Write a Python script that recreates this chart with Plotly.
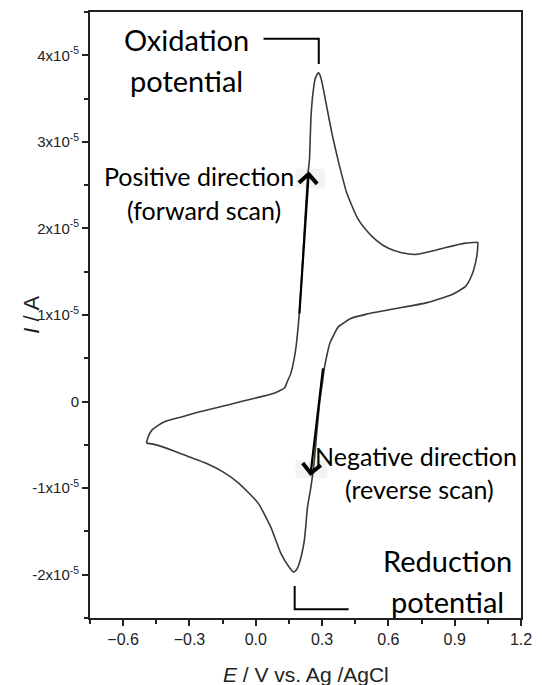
import plotly.graph_objects as go

# Cyclic voltammogram: potential E (V vs. Ag/AgCl) and current I (in units of 1e-5 A)
I_UNIT = 1e-5

fwd_E = [-0.495, -0.486, -0.470, -0.445, -0.410, -0.340, -0.271, -0.160, -0.066, 0.030,
         0.086, 0.112, 0.131, 0.144, 0.158, 0.180, 0.198, 0.212, 0.225, 0.234,
         0.243, 0.250, 0.261, 0.270, 0.283, 0.292, 0.301, 0.323, 0.346, 0.377,
         0.413, 0.460, 0.500, 0.547, 0.600, 0.660, 0.726, 0.784, 0.860, 0.949,
         1.005]
fwd_I = [-0.48, -0.40, -0.33, -0.28, -0.23, -0.18, -0.13, -0.06, 0.00, 0.06,
         0.10, 0.13, 0.16, 0.24, 0.32, 0.59, 1.05, 1.62, 2.20, 2.58,
         2.80, 3.30, 3.61, 3.74, 3.80, 3.76, 3.67, 3.38, 3.08, 2.74,
         2.40, 2.12, 1.98, 1.86, 1.77, 1.72, 1.70, 1.73, 1.78, 1.83,
         1.84]

rev_E = [1.005, 1.003, 0.994, 0.976, 0.949, 0.891, 0.771, 0.623, 0.502, 0.430,
         0.399, 0.372, 0.355, 0.336, 0.323, 0.310, 0.301, 0.290, 0.277, 0.265,
         0.250, 0.234, 0.220, 0.198, 0.185, 0.171, 0.153, 0.113, 0.068, 0.010,
         -0.079, -0.150, -0.227, -0.300, -0.370, -0.450, -0.495]
rev_I = [1.84, 1.74, 1.60, 1.45, 1.33, 1.24, 1.14, 1.07, 1.01, 0.96,
         0.91, 0.86, 0.78, 0.68, 0.55, 0.38, 0.21, 0.01, -0.33, -0.68,
         -0.98, -1.22, -1.60, -1.86, -1.94, -1.97, -1.92, -1.75, -1.45, -1.17,
         -0.94, -0.81, -0.71, -0.64, -0.57, -0.50, -0.48]

x_ticks = [-0.6, -0.3, 0.0, 0.3, 0.6, 0.9, 1.2]
y_tick_vals = [-2, -1, 0, 1, 2, 3, 4]
y_tick_text = ["-2x10<sup>-5</sup>", "-1x10<sup>-5</sup>", "0", "1x10<sup>-5</sup>",
               "2x10<sup>-5</sup>", "3x10<sup>-5</sup>", "4x10<sup>-5</sup>"]

# Peak markers
ox_peak = (0.283, 3.80)
red_peak = (0.171, -1.97)

LINE = "#3a3a3a"
ANN_FONT = "Lato"
AX_FONT = "Liberation Sans"

fig = go.Figure()
for E, I in ((fwd_E, fwd_I), (rev_E, rev_I)):
    fig.add_trace(go.Scatter(x=E, y=[v * I_UNIT for v in I], mode="lines",
                             line=dict(color=LINE, width=1.6, shape="spline", smoothing=0.5),
                             hoverinfo="skip", showlegend=False))

shapes = []
# faint boxes behind the direction arrows
shapes.append(dict(type="rect", xref="x", yref="y", x0=0.18, x1=0.314,
                   y0=2.46 * I_UNIT, y1=2.69 * I_UNIT, fillcolor="#f3f3f3",
                   line=dict(width=0), layer="below"))
shapes.append(dict(type="rect", xref="x", yref="y", x0=0.18, x1=0.323,
                   y0=-0.885 * I_UNIT, y1=-0.68 * I_UNIT, fillcolor="#f3f3f3",
                   line=dict(width=0), layer="below"))
# oxidation bracket
shapes.append(dict(type="path", xref="x", yref="y",
                   path=f"M 0.035 {4.19 * I_UNIT} L {ox_peak[0] + 0.002} {4.19 * I_UNIT} "
                        f"L {ox_peak[0] + 0.002} {3.90 * I_UNIT}",
                   line=dict(color="black", width=2)))
# reduction bracket
shapes.append(dict(type="path", xref="x", yref="y",
                   path=f"M {red_peak[0] + 0.005} {-2.13 * I_UNIT} L {red_peak[0] + 0.005} {-2.40 * I_UNIT} "
                        f"L 0.420 {-2.40 * I_UNIT}",
                   line=dict(color="black", width=2)))

annotations = []
def label(text, x, y, size):
    annotations.append(dict(text=text, x=x, y=y * I_UNIT, xref="x", yref="y",
                            showarrow=False, xanchor="center", yanchor="middle",
                            font=dict(family=ANN_FONT, size=size, color="black")))

label("Oxidation", -0.312, 4.18, 29)
label("potential", -0.312, 3.71, 29)
label("Positive direction", -0.258, 2.60, 25)
label("(forward scan)", -0.236, 2.21, 25)
label("Negative direction", 0.726, -0.63, 25)
label("(reverse scan)", 0.739, -1.01, 25)
label("Reduction", 0.866, -1.83, 29)
label("potential", 0.866, -2.31, 29)

# direction arrows
annotations.append(dict(x=0.240, y=2.66 * I_UNIT, ax=0.197, ay=1.00 * I_UNIT,
                        xref="x", yref="y", axref="x", ayref="y", text="",
                        showarrow=True, arrowhead=4, arrowsize=1.6, arrowwidth=2.2,
                        arrowcolor="black"))
annotations.append(dict(x=0.247, y=-0.86 * I_UNIT, ax=0.305, ay=0.40 * I_UNIT,
                        xref="x", yref="y", axref="x", ayref="y", text="",
                        showarrow=True, arrowhead=4, arrowsize=1.6, arrowwidth=2.2,
                        arrowcolor="black"))

# axis titles
annotations.append(dict(text="<i>E</i> / V vs. Ag /AgCl", x=(308 - 90) / 436,
                        y=-(675 - 618) / 608, xref="paper", yref="paper",
                        showarrow=False, xanchor="center", yanchor="middle",
                        font=dict(family=AX_FONT, size=21, color="#222")))
annotations.append(dict(text="<i>I</i> / A", x=-(90 - 30) / 436, y=0.5, xref="paper",
                        yref="paper", showarrow=False, textangle=-90,
                        xanchor="center", yanchor="middle",
                        font=dict(family=AX_FONT, size=22, color="#222")))

fig.update_layout(
    width=542, height=685,
    margin=dict(l=90, r=16, t=10, b=67),
    paper_bgcolor="white", plot_bgcolor="white",
    shapes=shapes, annotations=annotations,
    showlegend=False,
)
fig.update_xaxes(range=[-0.75, 1.2], tickvals=x_ticks, tickformat=".1f",
                 showgrid=False, zeroline=False,
                 showline=True, mirror=True, linecolor="#222", linewidth=1.8,
                 ticks="outside", ticklen=6, tickwidth=1.5, tickcolor="#222",
                 minor=dict(ticks="outside", tick0=0, dtick=0.15, ticklen=4,
                            tickwidth=1.5, tickcolor="#222"),
                 tickfont=dict(family=AX_FONT, size=16, color="#222"))
fig.update_yaxes(range=[-2.5 * I_UNIT, 4.5 * I_UNIT],
                 tickvals=[v * I_UNIT for v in y_tick_vals], ticktext=y_tick_text,
                 showgrid=False, zeroline=False,
                 showline=True, mirror=True, linecolor="#222", linewidth=1.8,
                 ticks="outside", ticklen=6, tickwidth=1.5, tickcolor="#222",
                 minor=dict(ticks="outside", tick0=0, dtick=0.5 * I_UNIT, ticklen=4,
                            tickwidth=1.5, tickcolor="#222"),
                 tickfont=dict(family=AX_FONT, size=15, color="#222"))

fig.write_html("out.html")
